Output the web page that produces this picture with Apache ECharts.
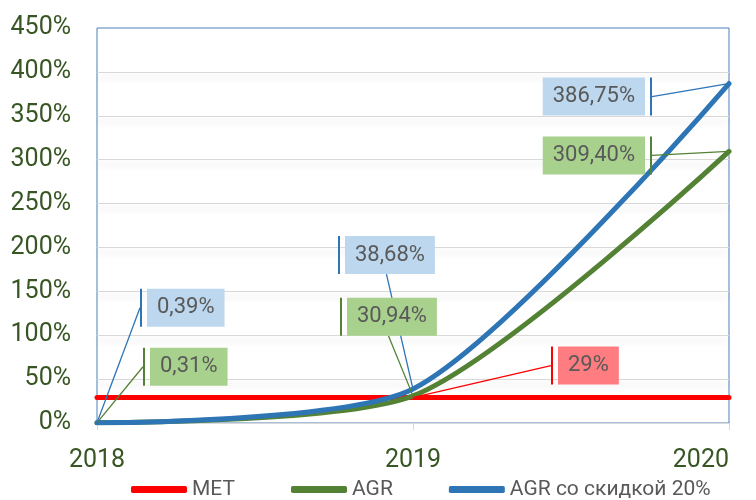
<!DOCTYPE html>
<html>
<head>
<meta charset="utf-8">
<script src="https://cdn.jsdelivr.net/npm/echarts@6/dist/echarts.min.js"></script>
<style>
  html, body { margin: 0; padding: 0; background: #fff; }
  #chart { width: 756px; height: 500px; }
</style>
</head>
<body>
<div id="chart"></div>
<script>
// data
var years = ['2018', '2019', '2020'];
var seriesNames = ['MET', 'AGR', 'AGR со скидкой 20%'];
var metValues = [29, 29, 29];
var agrValues = [0.31, 30.94, 309.40];
var agrDiscountValues = [0.39, 38.68, 386.75];
var metLabelled = [1];

// colours
var RED = '#FF0000', GREEN = '#548235', BLUE = '#2E75B6';
var AXIS_TEXT = '#375623', LABEL_TEXT = '#595959';

// where each callout sits, relative to its point: [dx, dy, align, barSide]
var metCallouts = { 1: [138, -51, 'left', 'left'] };
var agrCallouts = {
    0: [46, -75, 'left', 'left'],
    1: [-73, -98, 'left', 'left'],
    2: [-77, -15, 'right', 'right']
};
var discCallouts = {
    0: [43, -134, 'left', 'left'],
    1: [-75, -153, 'left', 'left'],
    2: [-77, -6, 'right', 'right']
};

function pct(v, digits) {
    return v.toFixed(digits).replace('.', ',') + '%';
}

function makeLabel(color, fill, callouts, digits, show) {
    return {
        show: show,
        formatter: function (p) {
            var c = callouts[p.dataIndex];
            var box = '{box|' + pct(p.value, digits) + '}';
            if (c && c[3] === 'right') {
                return box + '{gap|}{bar|}';
            }
            return '{bar|}{gap|}' + box;
        },
        rich: {
            bar: { width: 2, height: 38, backgroundColor: color },
            gap: { width: 5, height: 38 },
            box: {
                fontFamily: 'Roboto', fontSize: 22, lineHeight: 22,
                color: LABEL_TEXT, backgroundColor: fill,
                padding: [8, 10, 8, 10]
            }
        }
    };
}

function makeLayout(callouts) {
    return function (params) {
        var c = callouts[params.dataIndex];
        if (!c) {
            return {};
        }
        return {
            x: params.rect.x + params.rect.width / 2 + c[0],
            y: params.rect.y + params.rect.height / 2 + c[1],
            align: c[2],
            verticalAlign: 'top'
        };
    };
}

function lineSeries(name, values, color, label, callouts) {
    return {
        name: name,
        type: 'line',
        data: values,
        smooth: 0.25,
        symbol: 'circle',
        symbolSize: 1,
        showSymbol: true,
        itemStyle: { color: color },
        lineStyle: { color: color, width: 5, cap: 'round' },
        label: label,
        labelLine: { show: true, length2: 0, lineStyle: { width: 1.3, color: color } },
        labelLayout: makeLayout(callouts),
        emphasis: { disabled: true }
    };
}

var metData = metValues.map(function (v, i) {
    return metLabelled.indexOf(i) >= 0 ? { value: v, label: { show: true } } : v;
});

var chart = echarts.init(document.getElementById('chart'));

var option = {
    animation: false,
    backgroundColor: '#fff',
    grid: {
        left: 97, right: 27, top: 28, bottom: 77,
        show: true, borderColor: '#4A7EBB', borderWidth: 1
    },
    legend: {
        data: seriesNames,
        left: 126, top: 474,
        icon: 'roundRect',
        itemWidth: 56, itemHeight: 7, itemGap: 56,
        textStyle: { color: LABEL_TEXT, fontFamily: 'Roboto', fontSize: 21 }
    },
    xAxis: {
        type: 'category',
        data: years,
        boundaryGap: false,
        axisLine: { lineStyle: { color: '#D9D9D9', width: 1 } },
        axisTick: { show: true, length: 7, lineStyle: { color: '#D9D9D9' } },
        axisLabel: {
            color: AXIS_TEXT, fontFamily: 'Roboto', fontSize: 25,
            margin: 25, alignMaxLabel: 'right'
        },
        splitLine: { show: false }
    },
    yAxis: {
        type: 'value',
        min: 0, max: 450, interval: 50,
        axisLine: { show: false },
        axisTick: { show: false },
        axisLabel: {
            formatter: '{value}%', color: AXIS_TEXT,
            fontFamily: 'Roboto', fontSize: 25, margin: 26
        },
        splitLine: {
            show: true, showMaxLine: false, showMinLine: false,
            lineStyle: {
                color: '#D9D9D9', width: 1,
                shadowColor: 'rgba(0,0,0,0.2)', shadowBlur: 7, shadowOffsetY: 5
            }
        }
    },
    series: [
        lineSeries(seriesNames[0], metData, RED,
            makeLabel(RED, '#FF7C80', metCallouts, 0, false), metCallouts),
        lineSeries(seriesNames[1], agrValues, GREEN,
            makeLabel(GREEN, '#A9D18E', agrCallouts, 2, true), agrCallouts),
        lineSeries(seriesNames[2], agrDiscountValues, BLUE,
            makeLabel(BLUE, '#BDD7EE', discCallouts, 2, true), discCallouts)
    ]
};

chart.setOption(option);
</script>
</body>
</html>
